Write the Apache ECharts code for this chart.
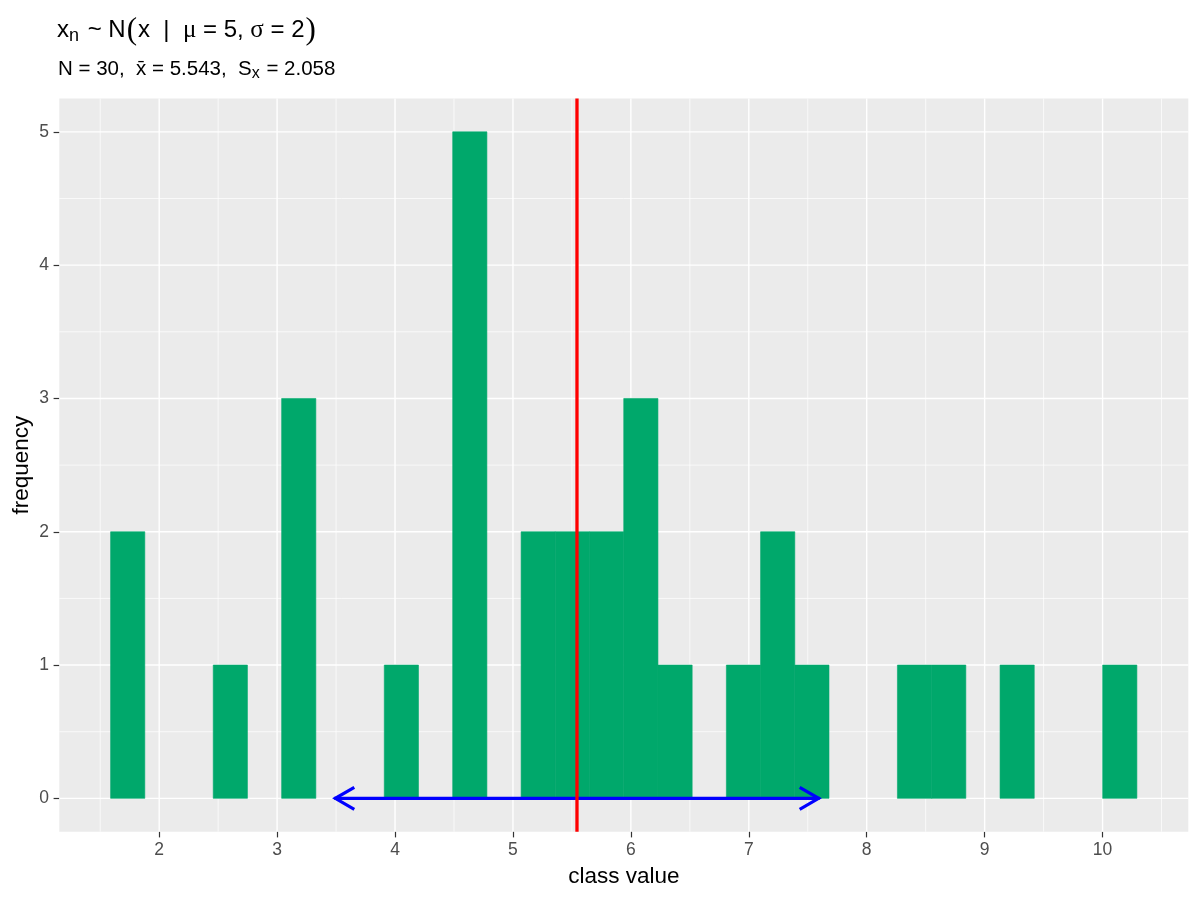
<!DOCTYPE html>
<html>
<head>
<meta charset="utf-8">
<title>histogram</title>
<script src="https://cdn.jsdelivr.net/npm/echarts@6/dist/echarts.min.js"></script>
<style>
  * { margin: 0; padding: 0; }
  #main { width: 1200px; height: 900px; background: #fff; }
</style>
</head>
<body>
<div id="main"></div>
<script>
// histogram bins (30 bins, ggplot default)
const binStart = 1.588;
const binWidth = 0.2901;
const counts = [2, 0, 0, 1, 0, 3, 0, 0, 1, 0,
                5, 0, 2, 2, 2, 3, 1, 0, 1, 2,
                1, 0, 0, 1, 1, 0, 1, 0, 0, 1];
const xMean = 5.543;
const xSd = 2.058;

// axis breaks
const xTicks = [2, 3, 4, 5, 6, 7, 8, 9, 10];
const xMinor = [1.5, 2.5, 3.5, 4.5, 5.5, 6.5, 7.5, 8.5, 9.5, 10.5];
const yTicks = [0, 1, 2, 3, 4, 5];
const yMinor = [0.5, 1.5, 2.5, 3.5, 4.5];
const xRange = [1.153, 10.727];
const yRange = [-0.25, 5.25];

const font = 'Liberation Sans, Arial, sans-serif';
const symFont = 'Liberation Serif, DejaVu Serif, serif';
const green = '#00A86B';

const chart = echarts.init(document.getElementById('main'), null, { renderer: 'canvas' });

const barData = [];
counts.forEach((c, i) => {
  if (c > 0) barData.push([binStart + i * binWidth, binStart + (i + 1) * binWidth, c]);
});

const vGrid = xTicks.map(v => [v, 1]).concat(xMinor.map(v => [v, 0]));
const hGrid = yTicks.map(v => [v, 1]).concat(yMinor.map(v => [v, 0]));

function vLine(params, api) {
  const cs = params.coordSys;
  const x = api.coord([api.value(0), 0])[0];
  return {
    type: 'line',
    shape: { x1: x, y1: cs.y, x2: x, y2: cs.y + cs.height },
    style: { stroke: '#FFFFFF', lineWidth: api.value(1) ? 1.4 : 0.7 }
  };
}
function hLine(params, api) {
  const cs = params.coordSys;
  const y = api.coord([xRange[0], api.value(0)])[1];
  return {
    type: 'line',
    shape: { x1: cs.x, y1: y, x2: cs.x + cs.width, y2: y },
    style: { stroke: '#FFFFFF', lineWidth: api.value(1) ? 1.4 : 0.7 }
  };
}

const txt = { fontFamily: font, color: '#000', fontWeight: 'normal' };

const option = {
  animation: false,
  backgroundColor: '#FFFFFF',
  title: [
    {
      left: 57, top: 15, padding: 0,
      text: '{a|x}{s|n}{a| ~ N}{p|(}{a|x  |  }{g|μ}{a| = 5, }{g|σ}{a| = 2}{p|)}',
      textStyle: {
        fontWeight: 'normal',
        rich: {
          a: Object.assign({ fontSize: 24 }, txt),
          s: Object.assign({ fontSize: 18, padding: [12, 2, 0, 0] }, txt),
          g: Object.assign({ fontSize: 25 }, txt, { fontFamily: symFont }),
          p: Object.assign({ fontSize: 31, padding: [0, 1, 0, 1] }, txt, { fontFamily: symFont })
        }
      }
    },
    {
      left: 58, top: 57, padding: 0,
      text: '{a|N = 30,  x\u0304 = 5.543,  S}{s|x}{a| = 2.058}',
      textStyle: {
        fontWeight: 'normal',
        rich: {
          a: Object.assign({ fontSize: 20.5 }, txt),
          s: Object.assign({ fontSize: 16, padding: [9, 1, 0, 0] }, txt)
        }
      }
    }
  ],
  grid: {
    left: 59.3, right: 11.7, top: 98.5, bottom: 68.3,
    outerBoundsMode: 'none', containLabel: false,
    show: true, backgroundColor: '#EBEBEB', borderWidth: 0
  },
  xAxis: {
    type: 'value', min: xRange[0], max: xRange[1],
    axisLine: { show: false, onZero: false },
    splitLine: { show: false },
    axisTick: { show: true, customValues: xTicks, length: 5.7, lineStyle: { color: '#333333', width: 1.2 } },
    axisLabel: { customValues: xTicks, color: '#4D4D4D', fontSize: 17.5, fontFamily: font, margin: 9.5 },
    name: 'class value', nameLocation: 'middle', nameGap: 34, nameMoveOverlap: false,
    nameTextStyle: { fontSize: 22.5, fontFamily: font, color: '#000' }
  },
  yAxis: {
    type: 'value', min: yRange[0], max: yRange[1],
    axisLine: { show: false, onZero: false },
    splitLine: { show: false },
    axisTick: { show: true, customValues: yTicks, length: 5.7, lineStyle: { color: '#333333', width: 1.2 } },
    axisLabel: { customValues: yTicks, color: '#4D4D4D', fontSize: 17.5, fontFamily: font, margin: 10.2 },
    name: 'frequency', nameLocation: 'middle', nameGap: 26, nameMoveOverlap: false,
    nameTextStyle: { fontSize: 22.5, fontFamily: font, color: '#000' }
  },
  series: [
    { type: 'custom', z: 1, silent: true, clip: false, data: vGrid, renderItem: vLine, encode: { x: 0 } },
    { type: 'custom', z: 1, silent: true, clip: false, data: hGrid, renderItem: hLine, encode: { y: 0 } },
    {
      // histogram bars
      type: 'custom', z: 2, silent: true,
      data: barData,
      encode: { x: [0, 1], y: 2 },
      renderItem: function (params, api) {
        const p0 = api.coord([api.value(0), api.value(2)]);
        const p1 = api.coord([api.value(1), 0]);
        return {
          type: 'rect',
          shape: { x: p0[0], y: p0[1], width: p1[0] - p0[0], height: p1[1] - p0[1] },
          style: { fill: green, stroke: green, lineWidth: 0.6 }
        };
      }
    },
    {
      // mean +- sd arrow
      type: 'custom', z: 3, silent: true,
      data: [[xMean - xSd, xMean + xSd, 0]],
      encode: { x: [0, 1], y: 2 },
      renderItem: function (params, api) {
        const a = api.coord([api.value(0), api.value(2)]);
        const b = api.coord([api.value(1), api.value(2)]);
        const len = 20, half = 11;
        const st = { stroke: '#0000FF', lineWidth: 3.2, fill: null, lineCap: 'butt', lineJoin: 'miter' };
        return {
          type: 'group',
          children: [
            { type: 'line', shape: { x1: a[0], y1: a[1], x2: b[0], y2: b[1] }, style: st },
            { type: 'polyline', shape: { points: [[a[0] + len, a[1] - half], [a[0] + 1, a[1]], [a[0] + len, a[1] + half]] }, style: st },
            { type: 'polyline', shape: { points: [[b[0] - len, b[1] - half], [b[0] - 1, b[1]], [b[0] - len, b[1] + half]] }, style: st }
          ]
        };
      }
    },
    {
      // sample mean
      type: 'custom', z: 4, silent: true, clip: false,
      data: [[xMean]],
      encode: { x: 0 },
      renderItem: function (params, api) {
        const cs = params.coordSys;
        const x = api.coord([api.value(0), 0])[0];
        return {
          type: 'line',
          shape: { x1: x, y1: cs.y, x2: x, y2: cs.y + cs.height },
          style: { stroke: '#FF0000', lineWidth: 3.3 }
        };
      }
    }
  ]
};

chart.setOption(option);
window.addEventListener('resize', () => chart.resize());
</script>
</body>
</html>
